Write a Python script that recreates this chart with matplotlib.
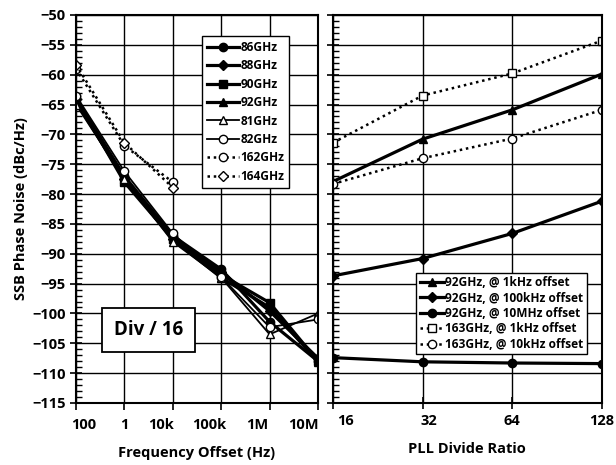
import numpy as np
import matplotlib.pyplot as plt
import matplotlib.transforms as mtransforms
from matplotlib.ticker import FixedLocator, MultipleLocator, LogLocator, NullLocator

plt.rcParams['font.family'] = ['Open Sans', 'DejaVu Sans']
plt.rcParams['font.weight'] = 'bold'

# left panel: phase noise vs offset, Div/16
offset = [1e2, 1e3, 1e4, 1e5, 1e6, 1e7]
offset_labels = ['100', '1', '10k', '100k', '1M', '10M']
pn_86 = [-64, -77, -87, -92.6, -101.4, -108]
pn_88 = [-64, -77.5, -87.5, -93, -99.6, -107.5]
pn_90 = [-64, -78, -87.5, -93.5, -98.2, -108]
pn_92 = [-64.5, -77.5, -87.6, -94, -99, -108.1]
pn_81 = [-65, -77.5, -88, -94, -103.5, -100]
pn_82 = [-63.5, -76.2, -86.6, -93.9, -102.3, -101]
offset_hi = [1e2, 1e3, 1e4]
pn_162 = [-59, -71.9, -78]
pn_164 = [-58.3, -71.4, -78.9]

# right panel: phase noise vs divide ratio
ratio = [16, 32, 64, 128]
r92_1k = [-77.9, -70.8, -65.9, -59.9]
r92_100k = [-93.7, -90.8, -86.6, -81.2]
r92_10M = [-107.4, -108.1, -108.3, -108.4]
r163_1k = [-71.4, -63.5, -59.8, -54.3]
r163_10k = [-78.3, -74.0, -70.7, -65.9]

fig = plt.figure(figsize=(6.16, 4.65), dpi=100)
ax1 = fig.add_axes([76/616, 62/465, 242/616, 388/465])
ax2 = fig.add_axes([333/616, 62/465, 268.7/616, 388/465])

lw = 2.3
ms = 6
kw_f = dict(color='black', lw=lw, ms=ms)
kw_o = dict(color='black', lw=1.3, ms=ms, mfc='white', mec='black', mew=1)
kw_d = dict(color='black', lw=1.8, ls=(0, (1, 1.5)), ms=ms, mfc='white', mec='black', mew=1)

ax1.plot(offset, pn_86, marker='o', label='86GHz', **kw_f)
ax1.plot(offset, pn_88, marker='D', label='88GHz', color='black', lw=lw, ms=5)
ax1.plot(offset, pn_90, marker='s', label='90GHz', **kw_f)
ax1.plot(offset, pn_92, marker='^', label='92GHz', **kw_f)
ax1.plot(offset, pn_81, marker='^', label='81GHz', **kw_o)
ax1.plot(offset, pn_82, marker='o', label='82GHz', **kw_o)
ax1.plot(offset_hi, pn_162, marker='o', label='162GHz', **kw_d)
ax1.plot(offset_hi, pn_164, marker='D', label='164GHz', **{**kw_d, 'ms': 5})

ax1.set_xscale('log')
ax1.set_xlim(1e2, 1e7)
ax1.set_ylim(-115, -50)
ax1.xaxis.set_major_locator(FixedLocator(offset))
ax1.set_xticklabels(offset_labels)
ax1.xaxis.set_minor_locator(LogLocator(base=10, subs=np.arange(2, 10)))
ax1.xaxis.set_minor_formatter(plt.NullFormatter())
ax1.yaxis.set_major_locator(MultipleLocator(5))
ax1.yaxis.set_minor_locator(MultipleLocator(1))
ax1.grid(True, which='major', color='black', lw=1)
ax1.tick_params(which='major', direction='inout', length=8, width=1.2, labelsize=10.5)
ax1.tick_params(which='minor', direction='in', length=4, width=1)
ax1.tick_params(axis='x', which='major', direction='out', length=5, pad=6)
ax1.tick_params(top=False, right=False)
for s in ax1.spines.values():
    s.set_linewidth(1.5)
ax1.set_ylabel('SSB Phase Noise (dBc/Hz)', fontsize=10.5, fontweight='bold', labelpad=3)
ax1.set_xlabel('Frequency Offset (Hz)', fontsize=10.5, fontweight='bold', labelpad=10)
ax1.legend(loc='upper left', bbox_to_anchor=(0.521, 0.945), fontsize=8.6,
           frameon=True, fancybox=False, edgecolor='black', framealpha=1,
           handlelength=2.7, handletextpad=0.1, borderpad=0.4, labelspacing=0.45,
           borderaxespad=0)
ax1.text(0.30, 0.188, 'Div / 16', transform=ax1.transAxes, ha='center', va='center',
         fontsize=13.5, fontweight='bold',
         bbox=dict(boxstyle='square,pad=0.65', fc='white', ec='black', lw=1.3))

# Excel-style label placement, nudged sideways as in the original
for lab, dx in zip(ax1.get_xticklabels(), [8, 0, -12, -12, -12, -15]):
    lab.set_transform(lab.get_transform() + mtransforms.ScaledTranslation(dx/100, 0, fig.dpi_scale_trans))

ax2.plot(ratio, r92_1k, marker='^', label='92GHz, @ 1kHz offset', **kw_f)
ax2.plot(ratio, r92_100k, marker='D', label='92GHz, @ 100kHz offset', color='black', lw=lw, ms=5)
ax2.plot(ratio, r92_10M, marker='o', label='92GHz, @ 10MHz offset', **kw_f)
ax2.plot(ratio, r163_1k, marker='s', label='163GHz, @ 1kHz offset', **kw_d)
ax2.plot(ratio, r163_10k, marker='o', label='163GHz, @ 10kHz offset', **kw_d)

ax2.set_xscale('log', base=2)
ax2.set_xlim(16, 128)
ax2.set_ylim(-115, -50)
ax2.xaxis.set_major_locator(FixedLocator(ratio))
ax2.set_xticklabels([str(r) for r in ratio])
ax2.xaxis.set_minor_locator(NullLocator())
ax2.yaxis.set_major_locator(MultipleLocator(5))
ax2.yaxis.set_minor_locator(MultipleLocator(1))
ax2.set_yticklabels([])
ax2.grid(True, which='major', color='black', lw=1)
ax2.tick_params(which='major', direction='inout', length=8, width=1.2, labelsize=10.5)
ax2.tick_params(which='minor', direction='in', length=4, width=1)
ax2.tick_params(axis='x', which='major', direction='inout', length=8, pad=4)
ax2.tick_params(top=False, right=False)
for s in ax2.spines.values():
    s.set_linewidth(1.5)
ax2.set_xlabel('PLL Divide Ratio', fontsize=10.5, fontweight='bold', labelpad=10)
ax2.legend(loc='upper left', bbox_to_anchor=(0.309, 0.336), fontsize=8.6,
           frameon=True, fancybox=False, edgecolor='black', framealpha=1,
           handlelength=2.0, handletextpad=0.1, borderpad=0.3, labelspacing=0.2,
           borderaxespad=0)

for lab, dx in zip(ax2.get_xticklabels(), [12, 6, 0, 0]):
    lab.set_transform(lab.get_transform() + mtransforms.ScaledTranslation(dx/100, 0, fig.dpi_scale_trans))

fig.savefig('out.png', dpi=100)
